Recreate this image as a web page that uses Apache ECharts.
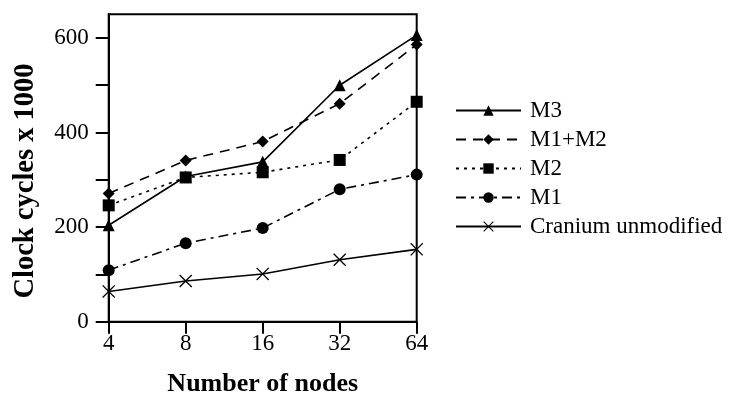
<!DOCTYPE html>
<html>
<head>
<meta charset="utf-8">
<script src="https://cdn.jsdelivr.net/npm/echarts@6/dist/echarts.min.js"></script>
<style>
  html, body { margin: 0; padding: 0; background: #fff; }
  #chart { width: 731px; height: 396px; }
</style>
</head>
<body>
<div id="chart"></div>
<script>
// Node counts on the horizontal axis
const nodeCounts = ['4', '8', '16', '32', '64'];

// Clock cycles (thousands) per configuration
const seriesNames = ['M3', 'M1+M2', 'M2', 'M1', 'Cranium unmodified'];
const m3 = [204, 307, 338, 500, 606];
const m1m2 = [271, 341, 381, 461, 586];
const m2 = [246, 305, 316, 342, 465];
const m1 = [109, 166, 198, 280, 311];
const cranium = [64, 86, 101, 131, 153];

// Axis ticks and labels
const yTickValues = [0, 100, 200, 300, 400, 500, 600];
const yLabelValues = [0, 200, 400, 600];

const FONT = '"Liberation Serif", "Times New Roman", serif';

// Thin "x" marker outline
const crossPath = 'path://M0,0.07 L0.07,0 L0.5,0.43 L0.93,0 L1,0.07 L0.57,0.5 L1,0.93 L0.93,1 L0.5,0.57 L0.07,1 L0,0.93 L0.43,0.5 Z';

function lineSeries(name, values, symbol, symbolSize, dash) {
  return {
    name: name,
    type: 'line',
    data: values,
    symbol: symbol,
    symbolSize: symbolSize,
    showAllSymbol: true,
    itemStyle: { color: '#000' },
    lineStyle: { color: '#000', width: 1.6, type: dash },
    emphasis: { disabled: true },
    animation: false
  };
}

const chart = echarts.init(document.getElementById('chart'), null, { renderer: 'canvas' });

chart.setOption({
  backgroundColor: '#fff',
  animation: false,
  textStyle: { fontFamily: FONT, color: '#000' },
  grid: {
    left: 108.7, right: 314.3, top: 14.3, bottom: 74.3,
    outerBoundsMode: 'none',
    containLabel: false,
    show: true, borderColor: '#000', borderWidth: 2, backgroundColor: 'transparent'
  },
  legend: {
    orient: 'vertical',
    left: 455,
    top: 99,
    padding: 0,
    itemWidth: 65,
    itemHeight: 13,
    itemGap: 6,
    data: seriesNames,
    textStyle: { fontFamily: FONT, fontSize: 23, color: '#000', lineHeight: 23, padding: [0, 0, 0, 4] },
    inactiveColor: '#000'
  },
  xAxis: {
    type: 'category',
    data: nodeCounts,
    boundaryGap: false,
    name: 'Number of nodes',
    nameLocation: 'middle',
    nameGap: 50,
    nameTextStyle: { fontFamily: FONT, fontSize: 26, fontWeight: 'bold', color: '#000' },
    axisLine: { show: true, lineStyle: { color: '#000', width: 2 } },
    axisTick: { show: true, inside: false, length: 12, alignWithLabel: true, lineStyle: { color: '#000', width: 2 } },
    axisLabel: { fontFamily: FONT, fontSize: 23, color: '#000', margin: 11 },
    splitLine: { show: false }
  },
  yAxis: {
    type: 'value',
    min: 0,
    max: 650,
    name: 'Clock cycles x 1000',
    nameLocation: 'middle',
    nameRotate: 90,
    nameGap: 69,
    nameTextStyle: { fontFamily: FONT, fontSize: 28.5, fontWeight: 'bold', color: '#000', padding: [0, 26, 0, 0] },
    axisLine: { show: true, lineStyle: { color: '#000', width: 2 } },
    axisTick: { show: true, inside: false, length: 13, customValues: yTickValues, lineStyle: { color: '#000', width: 2 } },
    axisLabel: { fontFamily: FONT, fontSize: 23, color: '#000', margin: 20, customValues: yLabelValues },
    splitLine: { show: false }
  },
  series: [
    lineSeries(seriesNames[0], m3, 'triangle', 12, 'solid'),
    lineSeries(seriesNames[1], m1m2, 'diamond', 12, [10, 7]),
    lineSeries(seriesNames[2], m2, 'rect', 12, [3, 5]),
    lineSeries(seriesNames[3], m1, 'circle', 12, [10, 5, 3, 5]),
    lineSeries(seriesNames[4], cranium, crossPath, 13, 'solid')
  ]
});
</script>
</body>
</html>
